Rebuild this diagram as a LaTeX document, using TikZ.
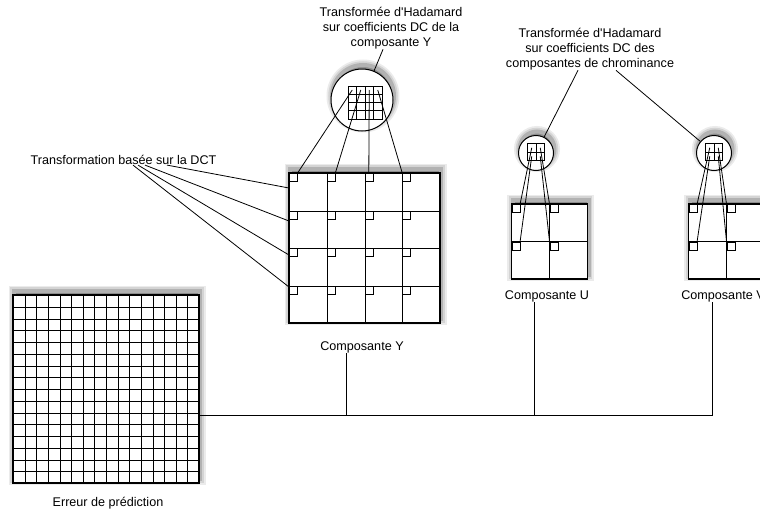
\documentclass[tikz,border=0pt]{standalone}
\usepackage{fontspec}
\setmainfont{Liberation Sans}

\begin{document}
\begin{tikzpicture}[x=1pt,y=-1pt,line width=0.8pt,
		every node/.style={font=\fontsize{12.6}{15}\selectfont},
		lbl/.style={align=center,inner sep=0pt},
		softshadow/.style={
			preaction={draw=black!8,line width=11pt,transform canvas={xshift=1pt,yshift=4pt}},
			preaction={draw=black!17,line width=7.5pt,transform canvas={xshift=1pt,yshift=4pt}},
			preaction={draw=black!30,line width=4pt,fill=black!45,transform canvas={xshift=1pt,yshift=4pt}}},
		block/.style={softshadow,draw,fill=white,inner sep=0pt,line width=1.2pt},
		zoombox/.style={softshadow,circle,draw,fill=white,inner sep=0pt,line width=1pt},
		dcgrid/.style={draw,inner sep=0pt,line width=1pt},
		dcsq/.style={draw,fill=white,inner sep=0pt,minimum size=8pt,anchor=north west,line width=0.6pt}]
		\useasboundingbox (0,0) rectangle (760,514);
		% prediction error, 16x16
		\node[block,minimum width=186pt,minimum height=188pt] (err) at (106,389) {};
		\foreach \i in {1,...,15} {
			\draw[line width=1.2pt] ({round(13+11.625*\i)+0.5},295) -- ({round(13+11.625*\i)+0.5},483);
			\draw[line width=1.2pt] (13,{round(295+11.75*\i)+0.5}) -- (199,{round(295+11.75*\i)+0.5});
		}
		\node[lbl] (errlbl) at (108,503) {Erreur de prédiction};
		% luma, 4x4 blocks
		\node[block,minimum width=151pt,minimum height=150pt] (ycomp) at (364.5,248) {};
		\foreach \i in {1,2,3} {
			\draw[line width=1.1pt] ({round(289+37.75*\i)+0.5},173) -- ({round(289+37.75*\i)+0.5},323);
			\draw[line width=1.1pt] (289,{round(173+37.5*\i)+0.5}) -- (440,{round(173+37.5*\i)+0.5});
		}
		\foreach \i in {1,...,4}
			\foreach \j in {1,...,4}
				\node[dcsq] (y-\i-\j) at ({289+37.75*(\i-1)},{173+37.5*(\j-1)}) {};
		\node[lbl] (ylbl) at (362,347) {Composante Y};
		% chroma, 2x2 blocks
		\node[block,minimum width=76pt,minimum height=75pt] (ucomp) at (549.5,241.5) {};
		\node[block,minimum width=76pt,minimum height=75pt] (vcomp) at (726.5,241.5) {};
		\draw[line width=1.1pt] (ucomp.north) -- (ucomp.south) (ucomp.west) -- (ucomp.east);
		\draw[line width=1.1pt] (vcomp.north) -- (vcomp.south) (vcomp.west) -- (vcomp.east);
		\foreach \i in {1,2}
			\foreach \j in {1,2} {
				\node[dcsq] (u-\i-\j) at ({511.5+38*(\i-1)},{204+37.5*(\j-1)}) {};
				\node[dcsq] (v-\i-\j) at ({688.5+38*(\i-1)},{204+37.5*(\j-1)}) {};
			}
		\node[lbl] (ulbl) at (547,296) {Composante U};
		\node[lbl] (vlbl) at (723,296) {Composante V};
		% Hadamard on the DC terms
		\node[zoombox,minimum size=62pt] (ycirc) at (362,100) {};
		\node[dcgrid,minimum width=34pt,minimum height=33pt] (ydc) at (365,102.5) {};
		\foreach \i in {1,2,3} {
			\draw ({348+8.5*\i},86) -- ({348+8.5*\i},119);
			\draw (348,{86+8.25*\i}) -- (382,{86+8.25*\i});
		}
		\node[zoombox,minimum size=35pt] (ucirc) at (536,153) {};
		\node[zoombox,minimum size=35pt] (vcirc) at (714,153) {};
		\node[dcgrid,minimum size=17pt] (udc) at (536,152) {};
		\node[dcgrid,minimum size=17pt] (vdc) at (714,152) {};
		\draw (udc.north) -- (udc.south) (udc.west) -- (udc.east);
		\draw (vdc.north) -- (vdc.south) (vdc.west) -- (vdc.east);
		\foreach \i/\a in {1/north east,2/north east,3/north,4/north west}
			\draw ({343.75+8.5*\i},90) -- (y-\i-1.\a);
		\draw (531.75,147.75) -- (u-1-1.north east) (531.75,156.25) -- (u-1-2.north east)
			(540.25,147.75) -- (u-2-1.north west) (540.25,156.25) -- (u-2-2.north west);
		\draw (709.75,147.75) -- (v-1-1.north east) (709.75,156.25) -- (v-1-2.north east)
			(718.25,147.75) -- (v-2-1.north west) (718.25,156.25) -- (v-2-2.north west);
		% labels and leaders
		\node[lbl] (dct) at (123.5,160) {Transformation basée sur la DCT};
		\foreach \j/\dx/\dy in {1/43.5/15,2/21.5/10.5,3/14.5/7,4/9.5/1.5}
			\draw ([xshift=\dx pt]dct.south) -- ([yshift=-\dy pt]y-1-\j.north west);
		\node[lbl] (hady) at (391,28) {Transformée d\textquotesingle Hadamard\\sur coefficients DC de la\\composante Y};
		\node[lbl] (hadc) at (590,49) {Transformée d\textquotesingle Hadamard\\sur coefficients DC des\\composantes de chrominance};
		\draw ([xshift=-8pt]hady.south) -- (ycirc);
		\draw ([xshift=-12pt]hadc.south) -- (ucirc) ([xshift=26pt]hadc.south) -- (vcirc);
		% collecting line
		\coordinate (bus) at ([yshift=-26pt]err.east);
		\coordinate (ytap) at ([xshift=-16pt]ylbl.south);
		\coordinate (utap) at ([xshift=-13pt]ulbl.south);
		\coordinate (vtap) at ([xshift=-11pt]vlbl.south);
		\draw (bus) -| (vtap) (ytap) -- (ytap |- bus) (utap) -- (utap |- bus);
	\end{tikzpicture}
\end{document}
